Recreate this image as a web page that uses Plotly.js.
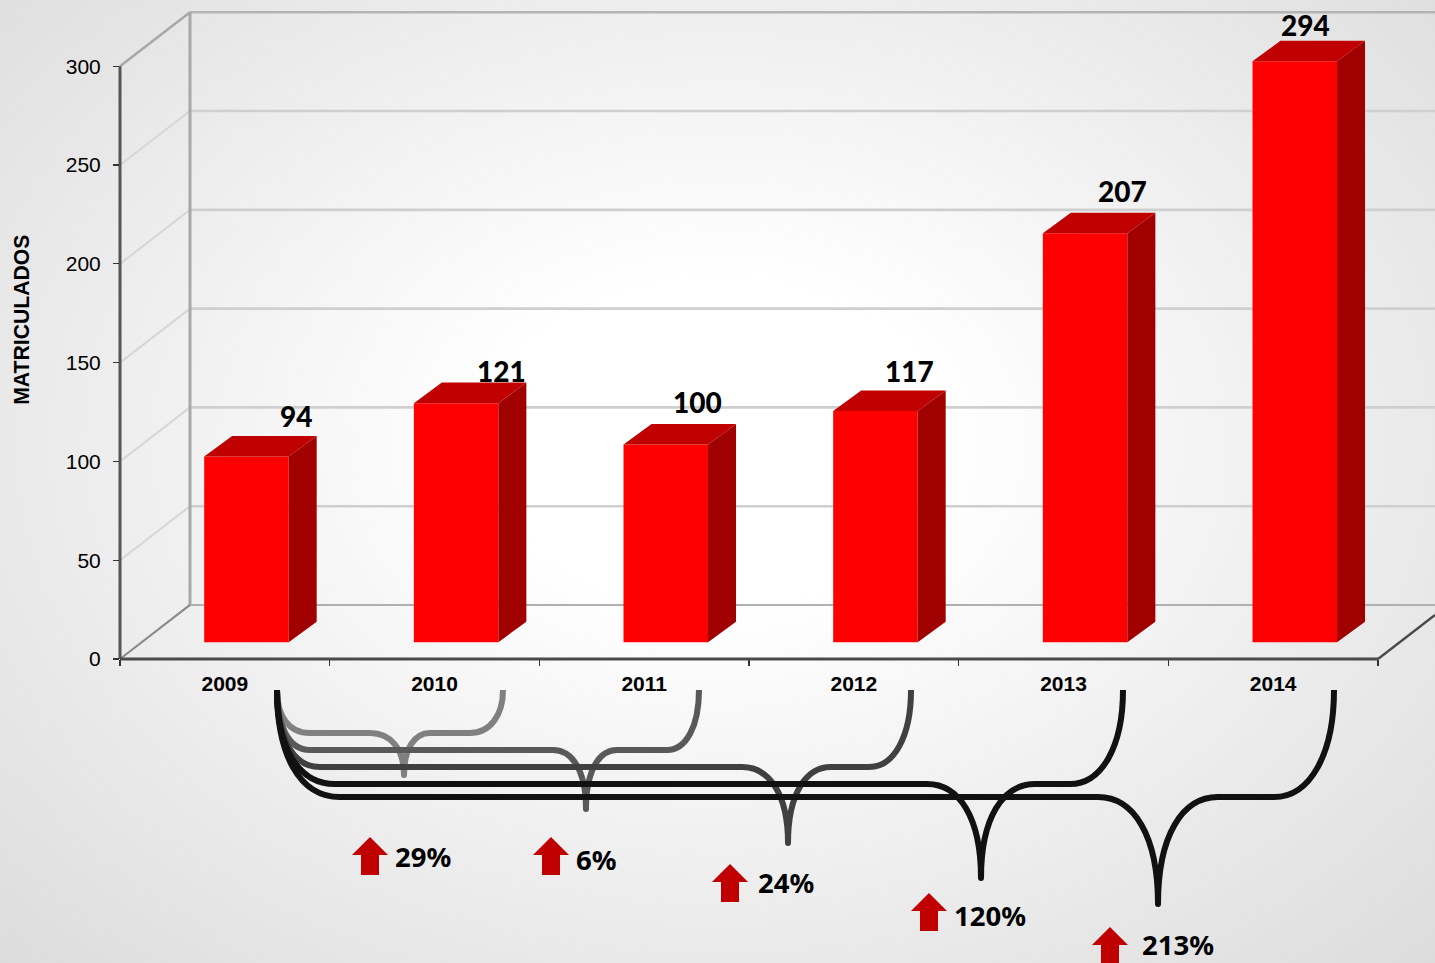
<!DOCTYPE html>
<html><head><meta charset="utf-8">
<script src="https://cdn.plot.ly/plotly-3.0.1.min.js"></script>
<style>
html,body{margin:0;padding:0;width:1435px;height:963px;overflow:hidden;
background:radial-gradient(ellipse farthest-corner at 50% 46%,#ffffff 0%,#ffffff 22%,#dcdcdc 100%);}
#c{width:1435px;height:963px;}
</style></head><body><div id="c"></div>
<script>
// ---- data ----
const years = ['2009','2010','2011','2012','2013','2014'];
const matriculados = [94,121,100,117,207,294];
const growthLabels = ['29%','6%','24%','120%','213%'];
const yTicks = [0,50,100,150,200,250,300];

// ---- geometry of the pseudo-3D frame ----
const W=1435,H=963,L=120,R=1378,T=66.5,B=659,yMax=330;
const unit=(B-T)/300, slot=(R-L)/6;
const plotTop=B-yMax*unit;
const wallDx=70, wallDy=54;
const barBase=16.8/unit, barWidth=84.5/slot, barOffset=-42.25/slot+21.6/slot;
const depthX=28/slot, depthY=20.5/unit;
const yPx=v=>B-v*unit;
const fx=x=>(x-L)/(R-L), fy=y=>(B-y)/(B-plotTop);
const px=(x,y)=>fx(x).toFixed(5)+' '+fy(y).toFixed(5);
const seg=(x0,y0,x1,y1,color,width)=>({type:'line',xref:'paper',yref:'paper',layer:'below',
  x0:fx(x0),y0:fy(y0),x1:fx(x1),y1:fy(y1),line:{color,width}});

const shapes=[];
yTicks.forEach(v=>{
  const y=yPx(v), back=y-wallDy;
  if(v>0 && v<300){
    shapes.push(seg(L,y,L+wallDx,back,'#d6d6d6',2));
    shapes.push(seg(L+wallDx,back,W,back,'#cfcfcf',2.6));
  }
});
shapes.push(seg(L+wallDx,yPx(300)-wallDy,W,yPx(300)-wallDy,'#b4b4b4',2.6));
shapes.push(seg(L+wallDx,yPx(0)-wallDy,W,yPx(0)-wallDy,'#b0b0b0',2.2));
shapes.push(seg(L+wallDx,yPx(0)-wallDy,L+wallDx,yPx(300)-wallDy,'#a8a8a8',3));
shapes.push(seg(L,yPx(300),L+wallDx,yPx(300)-wallDy,'#a8a8a8',2.6));
shapes.push(seg(L,B,L+wallDx,B-wallDy,'#8a8a8a',2.2));
shapes.push(seg(R,B,W,B-44,'#4a4a4a',2.4));
shapes.push(seg(L,yPx(0),L,yPx(300),'#555555',3));
shapes.push(seg(L,B,R,B,'#4a4a4a',3));

// braces from 2009 to each later year
const brace=(color,yh,x1,tipX,tipY,x3,x4,end,lx)=>{
  shapes.push({type:'path',xref:'paper',yref:'paper',layer:'above',
  line:{color,width:6},fillcolor:'rgba(0,0,0,0)',
  path:'M '+px(277,690)+' C '+px(277,690+(yh-690)*0.6)+' '+px(277+(lx-277)*0.35,yh)+' '+px(lx,yh)+
  ' L '+px(x1,yh)+' C '+px(x1+(tipX-x1)*0.6,yh)+' '+px(tipX,yh+(tipY-yh)*0.35)+' '+px(tipX,tipY-3)+
  ' C '+px(tipX,yh+(tipY-yh)*0.35)+' '+px(x3-(x3-tipX)*0.6,yh)+' '+px(x3,yh)+
  ' L '+px(x4,yh)+' C '+px(x4+(end-x4)*0.6,yh)+' '+px(end,690+(yh-690)*0.6)+' '+px(end,690)});
  shapes.push({type:'circle',xref:'paper',yref:'paper',layer:'above',fillcolor:color,line:{width:0},
    x0:fx(tipX-3),x1:fx(tipX+3),y0:fy(tipY-6),y1:fy(tipY)});
};
brace('#808080',733,370,404,778,430,470,503,310);
brace('#595959',750,553,586,812,617,667,699,310);
brace('#404040',767,742,788,846,831,869,911,320);
brace('#111111',784,927,981,881,1035,1070,1123,335);
brace('#111111',797,1098,1158,907,1218,1274,1334,340);

// growth arrows and their labels
const arrowX=[370,551,730,929,1110], arrowTop=[837,837,864,893,927];
const labelX=[393,574,756,952,1140], labelY=[856.5,859.5,882.5,915.5,944];
arrowX.forEach((c,i)=>{
  const t=arrowTop[i];
  shapes.push({type:'path',xref:'paper',yref:'paper',layer:'above',fillcolor:'#c00000',line:{width:0},
    path:'M '+px(c,t)+' L '+px(c+18,t+18)+' L '+px(c+9,t+18)+' L '+px(c+9,t+38)+' L '+px(c-9,t+38)+' L '+px(c-9,t+18)+' L '+px(c-18,t+18)+' Z'});
});

// value labels
const labelDx=[71,67,53,56,58.5,32], labelDy=[-57,-49,-59,-57,-59,-53];
const annotations=years.map((yr,i)=>({xref:'x',yref:'y',x:i,y:matriculados[i],text:String(matriculados[i]),
  showarrow:false,xshift:labelDx[i],yshift:-labelDy[i],xanchor:'center',yanchor:'middle',
  font:{family:'Lato',size:28,color:'#000',weight:900}}));
growthLabels.forEach((t,i)=>annotations.push({xref:'paper',yref:'paper',x:fx(labelX[i]),y:fy(labelY[i]),text:t,
  showarrow:false,xanchor:'left',yanchor:'middle',font:{family:'Noto Sans',size:27.5,color:'#000',weight:'bold'}}));
annotations.push({xref:'paper',yref:'paper',x:fx(22),y:fy(320),text:'MATRICULADOS',textangle:-90,showarrow:false,
  xanchor:'center',yanchor:'middle',font:{family:'Liberation Sans',size:21.2,color:'#000',weight:'bold'}});

// faces of the bars, built from the values
const sideX=[],sideY=[],topX=[],topY=[];
matriculados.forEach((v,i)=>{
  const x0=i+barOffset, x1=x0+barWidth, y0=barBase, y1=barBase+v;
  sideX.push(x1,x1+depthX,x1+depthX,x1,x1,null);
  sideY.push(y0,y0+depthY,y1+depthY,y1,y0,null);
  topX.push(x0,x0+depthX,x1+depthX,x1,x0,null);
  topY.push(y1,y1+depthY,y1+depthY,y1,y1,null);
});

const traces=[
  {type:'bar',x:years,y:matriculados,base:barBase,width:barWidth,offset:barOffset,
   marker:{color:'#ff0000',line:{width:0}},hoverinfo:'x+text',text:matriculados.map(String),textposition:'none',name:'Matriculados'},
  {type:'scatter',mode:'lines',x:sideX,y:sideY,xaxis:'x2',fill:'toself',fillcolor:'#a00000',line:{width:0,color:'#a00000'},hoverinfo:'skip',connectgaps:false},
  {type:'scatter',mode:'lines',x:topX,y:topY,xaxis:'x2',fill:'toself',fillcolor:'#c00000',line:{width:0,color:'#c00000'},hoverinfo:'skip',connectgaps:false}
];

const layout={
  width:W,height:H,showlegend:false,paper_bgcolor:'rgba(0,0,0,0)',plot_bgcolor:'rgba(0,0,0,0)',
  margin:{l:L,r:W-R,t:plotTop,b:H-B,pad:0},
  xaxis:{type:'category',categoryorder:'array',categoryarray:years,range:[-0.5,5.5],fixedrange:true,
    tickson:'boundaries',ticks:'outside',ticklen:6,tickwidth:1.2,tickcolor:'#333',showgrid:false,zeroline:false,
    showline:false,ticklabelstandoff:10,
    tickfont:{family:'Liberation Sans',size:21,color:'#000',weight:'bold'}},
  xaxis2:{overlaying:'x',range:[-0.5,5.5],visible:false,fixedrange:true},
  yaxis:{range:[0,yMax],tickvals:yTicks,ticks:'outside',ticklen:6,tickwidth:1.2,tickcolor:'#333',showgrid:false,zeroline:false,
    showline:false,fixedrange:true,ticklabelstandoff:8,
    tickfont:{family:'Liberation Sans',size:21,color:'#000'}},
  shapes,annotations
};
Plotly.newPlot('c',traces,layout,{displayModeBar:false,staticPlot:true});
</script></body></html>
